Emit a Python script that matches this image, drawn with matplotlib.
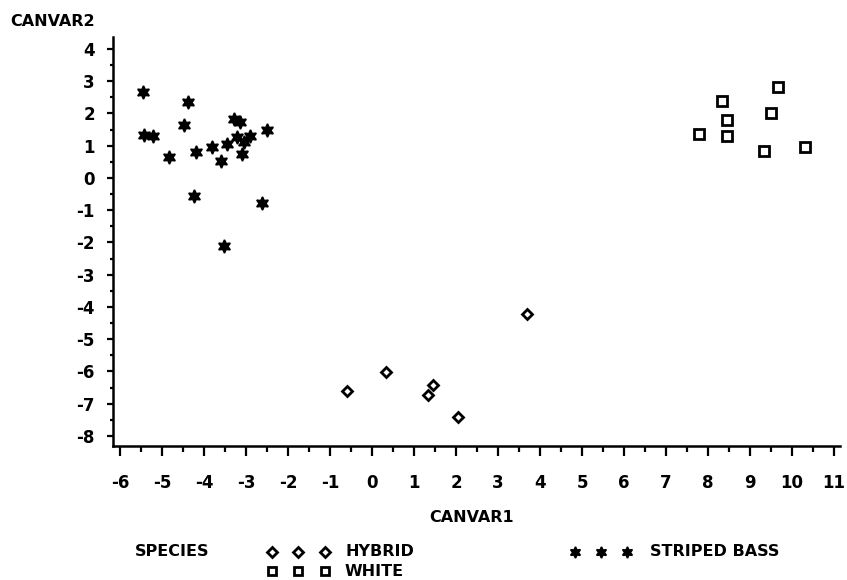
import matplotlib
matplotlib.use("Agg")
import matplotlib.pyplot as plt
from matplotlib.lines import Line2D
from matplotlib.ticker import MultipleLocator

# Canonical variable scores per fish, by species
hybrid_can1 = [3.68, 0.33, -0.60, 1.46, 1.34, 2.05]
hybrid_can2 = [-4.21, -6.01, -6.61, -6.43, -6.72, -7.41]

white_can1 = [7.79, 8.34, 8.46, 8.45, 9.67, 9.49, 9.34, 10.31]
white_can2 = [1.37, 2.38, 1.80, 1.31, 2.83, 2.01, 0.83, 0.95]

striped_can1 = [-5.45, -4.39, -4.48, -5.43, -5.21, -4.83, -4.20, -3.81, -3.60, -3.45,
                -3.28, -3.14, -3.22, -3.05, -2.90, -3.09, -2.51, -4.23, -2.63, -3.52]
striped_can2 = [2.66, 2.36, 1.64, 1.33, 1.31, 0.64, 0.81, 0.96, 0.52, 1.05,
                1.83, 1.72, 1.26, 1.12, 1.31, 0.74, 1.49, -0.56, -0.78, -2.11]

x_ticks = list(range(-6, 12))
y_ticks = list(range(-8, 5))

plt.rcParams["axes.unicode_minus"] = False
plt.rcParams["font.family"] = "DejaVu Sans"
plt.rcParams["font.weight"] = "bold"

W, H = 847, 580
fig = plt.figure(figsize=(W / 100, H / 100), dpi=100)
ax = fig.add_axes([113 / W, 1 - 446 / H, (840 - 113) / W, (446 - 37) / H])

hyb_style = dict(marker="D", markersize=5.5, mfc="white", mec="black", mew=2.0, linestyle="none")
wht_style = dict(marker="s", markersize=7, mfc="white", mec="black", mew=2.0, linestyle="none")
stb_style = dict(marker=(6, 1, 0), markersize=9.5, mfc="black", mec="black", mew=1.2, linestyle="none")

ax.plot(hybrid_can1, hybrid_can2, **hyb_style)
ax.plot(white_can1, white_can2, **wht_style)
ax.plot(striped_can1, striped_can2, **stb_style)

ax.set_xlim(-6.17, 11.14)
ax.set_ylim(-8.31, 4.37)

for side in ("top", "right"):
    ax.spines[side].set_visible(False)
for side in ("left", "bottom"):
    ax.spines[side].set_linewidth(1.8)

ax.set_xticks(x_ticks)
ax.set_yticks(y_ticks)
ax.xaxis.set_minor_locator(MultipleLocator(0.5))
ax.yaxis.set_minor_locator(MultipleLocator(0.5))
ax.tick_params(axis="x", which="major", direction="out", length=7, width=1.6, pad=13, labelsize=12)
ax.tick_params(axis="x", which="minor", direction="out", length=4, width=1.6)
ax.tick_params(axis="y", which="major", direction="out", length=4, width=1.6, pad=9, labelsize=12)
ax.tick_params(axis="y", which="minor", direction="out", length=2, width=1.6)
for lbl in ax.get_xticklabels() + ax.get_yticklabels():
    lbl.set_fontweight("bold")

fig.text(10 / W, 1 - 22 / H, "CANVAR2", ha="left", va="center", fontsize=11.5, fontweight="bold")
fig.text(472 / W, 1 - 517 / H, "CANVAR1", ha="center", va="center", fontsize=11.5, fontweight="bold")

# Species key below the plot
fig.text(135 / W, 1 - 552 / H, "SPECIES", ha="left", va="center", fontsize=11.5, fontweight="bold")
key_rows = [
    (552, [272, 298, 325], hyb_style, 345, "HYBRID"),
    (571, [272, 298, 325], wht_style, 345, "WHITE"),
    (552, [575, 601, 627], stb_style, 650, "STRIPED BASS"),
]
for y_px, xs_px, style, tx_px, label in key_rows:
    st = dict(style)
    st["markersize"] = st["markersize"] * 0.85
    fig.add_artist(Line2D([x / W for x in xs_px], [1 - y_px / H] * len(xs_px),
                          transform=fig.transFigure, **st))
    fig.text(tx_px / W, 1 - y_px / H, label, ha="left", va="center", fontsize=11.5, fontweight="bold")

fig.savefig("out.png", dpi=100)
